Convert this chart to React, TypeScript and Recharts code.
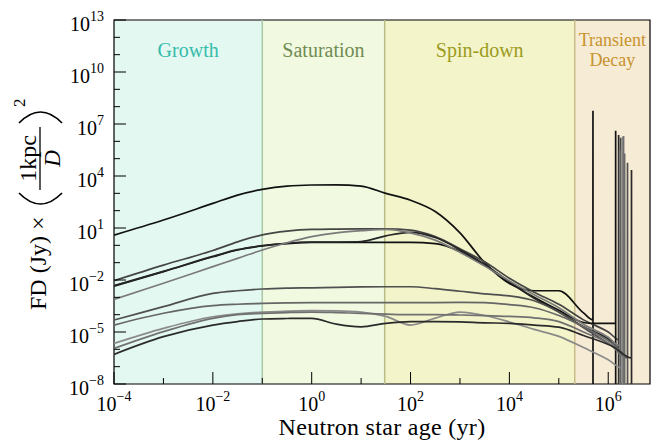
import React from "react";
import {
  LineChart,
  Line,
  XAxis,
  YAxis,
  ReferenceArea,
  ReferenceLine,
} from "recharts";

const SERIF = '"Liberation Serif", "Times New Roman", serif';
const PLOT_LEFT = 114;
const PLOT_BOTTOM = 384;

const AGES = [
  1e-4, 1e-3, 1e-2, 3.16e-2, 0.1, 0.316, 1, 3.16, 10, 31.6, 100, 316, 1e3,
  3.16e3, 1e4, 3.16e4, 1e5, 3.16e5,
];

// log10 of FD (Jy) x (1kpc/D)^2, one array per track
const TRACK_A = [0.59, 1.46, 2.42, 2.9, 3.23, 3.42, 3.48, 3.49, 3.42, 3.0, 2.6, 1.95, 0.72, -1.0, -2.2, -2.62, -2.62, -3.9];
const TRACK_B = [-2.04, -1.14, -0.3, 0.2, 0.6, 0.82, 0.92, 0.94, 0.95, 0.95, 0.88, 0.5, -0.2, -0.95, -1.9, -2.7, -3.4, -4.3];
const TRACK_C = [-2.35, -1.52, -0.66, -0.27, -0.04, 0.1, 0.17, 0.17, 0.17, 0.17, 0.17, 0.1, -0.35, -1.15, -2.15, -3.0, -3.75, -4.45];
const TRACK_D = [-2.33, -1.5, -0.64, -0.25, -0.02, 0.12, 0.18, 0.19, 0.22, 0.55, 0.75, 0.45, -0.25, -1.1, -2.1, -3.05, -3.85, -4.7];
const TRACK_E = [-3.12, -2.19, -1.23, -0.75, -0.27, 0.15, 0.5, 0.72, 0.84, 0.92, 0.72, 0.3, -0.4, -1.2, -2.05, -2.85, -3.6, -4.55];
const TRACK_F = [-4.31, -3.54, -2.77, -2.62, -2.52, -2.47, -2.45, -2.42, -2.4, -2.39, -2.39, -2.5, -2.65, -2.8, -2.92, -3.2, -3.85, -4.75];
const TRACK_G = [-4.6, -3.92, -3.48, -3.4, -3.35, -3.32, -3.31, -3.31, -3.31, -3.31, -3.3, -3.3, -3.29, -3.3, -3.42, -3.6, -4.05, -4.7];
const TRACK_H = [-5.66, -4.79, -4.12, -3.95, -3.85, -3.8, -3.77, -3.78, -3.85, -4.1, -4.6, -4.2, -3.85, -4.05, -4.42, -4.85, -5.25, -5.9];
const TRACK_I = [-5.95, -4.98, -4.21, -4.0, -3.93, -3.88, -3.85, -3.88, -3.93, -3.97, -4.0, -4.0, -4.02, -4.05, -4.1, -4.18, -4.4, -5.0];
const TRACK_J = [-6.29, -5.27, -4.6, -4.4, -4.25, -4.22, -4.21, -4.55, -4.7, -4.5, -4.4, -4.4, -4.42, -4.47, -4.5, -4.6, -4.72, -5.2];

const TRACKS = [TRACK_A, TRACK_B, TRACK_C, TRACK_D, TRACK_E, TRACK_F, TRACK_G, TRACK_H, TRACK_I, TRACK_J];

// late points before the final flare (age in yr, log10 flux)
const TAIL_AGES = [
  [4.9e5],
  [1.0e6, 1.78e6],
  [5.0e5, 1.41e6],
  [1.0e6, 1.62e6],
  [1.0e6, 1.7e6],
  [1.26e6, 2.45e6],
  [1.26e6, 2.14e6],
  [1.0e6, 1.95e6],
  [1.26e6, 2.04e6],
  [1.26e6, 2.95e6],
];
const TAIL_LOG = [
  [-4.3],
  [-5.0, -5.5],
  [-4.5, -4.5],
  [-5.4, -5.9],
  [-5.3, -5.8],
  [-5.85, -6.5],
  [-5.7, -6.2],
  [-6.6, -7.1],
  [-5.85, -6.4],
  [-5.85, -6.5],
];
// log10 height of the final flare
const PEAK_LOG = [7.77, 6.2, 6.61, 6.37, 5.51, 4.76, 5.3, 6.27, 6.31, 4.35];

const TRACK_COLORS = ["#111111", "#454545", "#111111", "#262626", "#7a7a7a", "#505050", "#666666", "#8a8a8a", "#707070", "#2a2a2a"];

const X_TICKS = [1e-4, 1e-3, 1e-2, 1e-1, 1, 10, 100, 1e3, 1e4, 1e5, 1e6];
const Y_TICKS = [
  1e-8, 1e-7, 1e-6, 1e-5, 1e-4, 1e-3, 1e-2, 1e-1, 1, 10, 100, 1e3, 1e4, 1e5,
  1e6, 1e7, 1e8, 1e9, 1e10, 1e11, 1e12, 1e13,
];

// phase boundaries (yr)
const PHASE_EDGES = [1e-4, 0.1, 30, 2.1e5, 7e6];
const PHASE_NAMES = [["Growth"], ["Saturation"], ["Spin-down"], ["Transient", "Decay"]];
const PHASE_FILLS = ["#e2f8f1", "#f1f9e1", "#f3f4ca", "#f6ebd4"];
const PHASE_TEXT = ["#36bcaa", "#6f8c52", "#9c9b1c", "#c8932e"];
const EDGE_COLORS = ["#a8caa7", "#b9be86", "#c8bd88"];

const FLOOR = 1e-10;

function buildTrack(i: number) {
  const pts = AGES.map((x, k) => ({ x, y: 10 ** TRACKS[i][k] }));
  TAIL_AGES[i].forEach((x, k) => pts.push({ x, y: 10 ** TAIL_LOG[i][k] }));
  const end = TAIL_AGES[i][TAIL_AGES[i].length - 1];
  pts.push({ x: end * 1.002, y: 10 ** PEAK_LOG[i] });
  pts.push({ x: end * 1.004, y: FLOOR });
  return pts;
}

function expText(e: number) {
  return e < 0 ? "\u2212" + Math.abs(e) : String(e);
}

function YTick(props: any) {
  const { y, payload } = props;
  const e = Math.round(Math.log10(payload.value));
  const major = (e + 8) % 3 === 0;
  return (
    <g>
      <line x1={PLOT_LEFT} x2={PLOT_LEFT + (major ? 12 : 6)} y1={y} y2={y} stroke="#000" strokeWidth={1} />
      {major && (
        <text x={104} y={y + 11} textAnchor="end" fontFamily={SERIF} fontSize={20} fill="#000">
          10
          <tspan dy={-10} fontSize={14}>
            {expText(e)}
          </tspan>
        </text>
      )}
    </g>
  );
}

function XTick(props: any) {
  const { x, payload } = props;
  const e = Math.round(Math.log10(payload.value));
  const major = e % 2 === 0;
  return (
    <g>
      <line x1={x} x2={x} y1={PLOT_BOTTOM} y2={PLOT_BOTTOM - (major ? 12 : 6)} stroke="#000" strokeWidth={1} />
      {major && (
        <text x={x} y={411} textAnchor="middle" fontFamily={SERIF} fontSize={20} fill="#000">
          10
          <tspan dy={-10} fontSize={14}>
            {expText(e)}
          </tspan>
        </text>
      )}
    </g>
  );
}

function PhaseLabel(props: any) {
  const { viewBox, lines, color } = props;
  if (!viewBox) return null;
  const cx = viewBox.x + viewBox.width / 2;
  if (lines.length === 1) {
    return (
      <text x={cx} y={viewBox.y + 37} textAnchor="middle" fill={color} fontFamily={SERIF} fontSize={20}>
        {lines[0]}
      </text>
    );
  }
  return (
    <g fill={color} fontFamily={SERIF} fontSize={18}>
      {lines.map((t: string, i: number) => (
        <text key={t} x={cx} y={viewBox.y + 26 + i * 20} textAnchor="middle">
          {t}
        </text>
      ))}
    </g>
  );
}

function AxisTitles() {
  return (
    <svg
      width={660}
      height={441}
      style={{ position: "absolute", left: 0, top: 0, pointerEvents: "none" }}
    >
      <text x={382} y={435} textAnchor="middle" fontFamily={SERIF} fontSize={24} letterSpacing={0.3} fill="#000">
        Neutron star age (yr)
      </text>
      {/* rotated y label: local x runs upward, local y runs right */}
      <g transform="translate(46,0) rotate(-90)" fontFamily={SERIF} fill="#000">
        <text x={-310} y={0} fontSize={24}>
          FD (Jy) ×
        </text>
        <path d="M -193 -27 Q -215 -5.5 -193 16" fill="none" stroke="#000" strokeWidth={1.7} />
        <line x1={-190} x2={-127} y1={-6} y2={-6} stroke="#000" strokeWidth={1.3} />
        <text x={-158.5} y={-10.5} textAnchor="middle" fontSize={24}>
          1kpc
        </text>
        <text x={-158.5} y={13.5} textAnchor="middle" fontSize={23} fontStyle="italic">
          D
        </text>
        <path d="M -123 -27 Q -101 -5.5 -123 16" fill="none" stroke="#000" strokeWidth={1.7} />
        <text x={-107} y={-21} fontSize={17}>
          2
        </text>
      </g>
    </svg>
  );
}

export default function App() {
  return (
    <div style={{ position: "absolute", left: 0, top: 0, width: 660, height: 441, background: "#fff" }}>
      <LineChart width={660} height={441} margin={{ top: 20, right: 10, left: 0, bottom: 0 }}>
        <XAxis
          type="number"
          dataKey="x"
          scale="log"
          domain={[1e-4, 7e6]}
          allowDataOverflow
          ticks={X_TICKS}
          interval={0}
          tick={<XTick />}
          tickLine={false}
          tickSize={0}
          axisLine={false}
          height={57}
        />
        <YAxis
          type="number"
          dataKey="y"
          scale="log"
          domain={[1e-8, 1e13]}
          allowDataOverflow
          ticks={Y_TICKS}
          interval={0}
          tick={<YTick />}
          tickLine={false}
          tickSize={0}
          axisLine={false}
          width={114}
        />
        {PHASE_NAMES.map((lines, i) => (
          <ReferenceArea
            key={lines.join(" ")}
            x1={PHASE_EDGES[i]}
            x2={PHASE_EDGES[i + 1]}
            y1={1e-8}
            y2={1e13}
            fill={PHASE_FILLS[i]}
            fillOpacity={1}
            stroke="none"
            label={<PhaseLabel lines={lines} color={PHASE_TEXT[i]} />}
          />
        ))}
        {EDGE_COLORS.map((c, i) => (
          <ReferenceLine key={c} x={PHASE_EDGES[i + 1]} stroke={c} strokeWidth={1.5} />
        ))}
        {TRACKS.map((_, i) => (
          <Line
            key={i}
            data={buildTrack(i)}
            dataKey="y"
            type="monotone"
            stroke={TRACK_COLORS[i]}
            strokeWidth={1.7}
            dot={false}
            activeDot={false}
            isAnimationActive={false}
          />
        ))}
        <ReferenceArea
          x1={1e-4}
          x2={7e6}
          y1={1e-8}
          y2={1e13}
          fill="none"
          stroke="#000"
          strokeWidth={1.2}
        />
      </LineChart>
      <AxisTitles />
    </div>
  );
}
